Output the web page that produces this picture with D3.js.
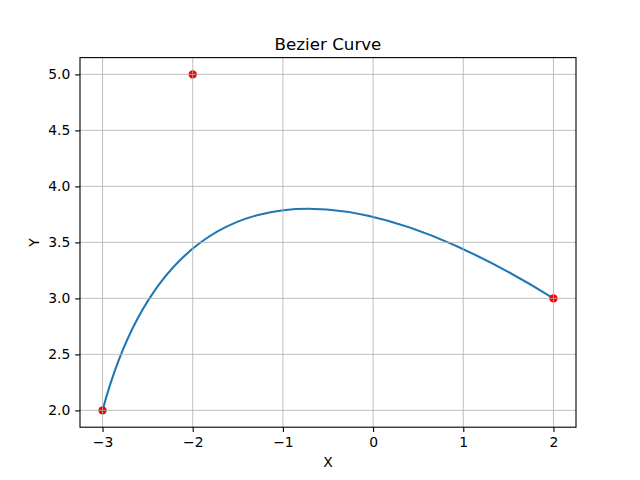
<!DOCTYPE html>
<html>
<head>
<meta charset="utf-8">
<script src="https://cdn.jsdelivr.net/npm/d3@7"></script>
<style>
  body { margin: 0; background: #fff; }
  text { font-family: "DejaVu Sans", sans-serif; }
</style>
</head>
<body>
<svg id="SVG_CONTAINER" width="640" height="480"></svg>
<script>
// control points of the quadratic Bezier curve
const pointX = [-3, -2, 2];
const pointY = [2, 5, 3];

const xTicks = [-3, -2, -1, 0, 1, 2];
const yTicks = [2.0, 2.5, 3.0, 3.5, 4.0, 4.5, 5.0];

const MARGIN = { LEFT: 80, RIGHT: 64, TOP: 57.6, BOTTOM: 52.8 };
const width = 640, height = 480;

let svg = d3.select("#SVG_CONTAINER");

let xScale = d3.scaleLinear()
    .domain([-3.25, 2.25])
    .range([MARGIN.LEFT, width - MARGIN.RIGHT]);

let yScale = d3.scaleLinear()
    .domain([1.85, 5.15])
    .range([height - MARGIN.BOTTOM, MARGIN.TOP]);

// curve
let p = d3.path();
p.moveTo(xScale(pointX[0]), yScale(pointY[0]));
p.quadraticCurveTo(xScale(pointX[1]), yScale(pointY[1]), xScale(pointX[2]), yScale(pointY[2]));

svg.append("path")
    .attr("d", p.toString())
    .attr("fill", "none")
    .attr("stroke", "#1f77b4")
    .attr("stroke-width", 2.08)
    .attr("stroke-linecap", "square");

// control points
svg.append("g")
    .selectAll("circle")
    .data(pointX)
    .enter()
    .append("circle")
    .attr("cx", d => xScale(d))
    .attr("cy", (d, i) => yScale(pointY[i]))
    .attr("r", 4.2)
    .style("fill", "red");

// grid (drawn above the marks like matplotlib)
let grid = svg.append("g");
grid.selectAll(".vgrid")
    .data(xTicks)
    .enter().append("line")
    .attr("x1", d => xScale(d)).attr("x2", d => xScale(d))
    .attr("y1", MARGIN.TOP).attr("y2", height - MARGIN.BOTTOM)
    .attr("stroke", "#b0b0b0").attr("stroke-width", 0.8);
grid.selectAll(".hgrid")
    .data(yTicks)
    .enter().append("line")
    .attr("y1", d => yScale(d)).attr("y2", d => yScale(d))
    .attr("x1", MARGIN.LEFT).attr("x2", width - MARGIN.RIGHT)
    .attr("stroke", "#b0b0b0").attr("stroke-width", 0.8);

// axes
let xAxis = d3.axisBottom(xScale)
    .tickValues(xTicks)
    .tickSize(4.86)
    .tickPadding(4.86)
    .tickSizeOuter(0)
    .tickFormat(d => d < 0 ? "\u2212" + Math.abs(d) : d);

let yAxis = d3.axisLeft(yScale)
    .tickValues(yTicks)
    .tickSize(4.86)
    .tickPadding(4.86)
    .tickSizeOuter(0)
    .tickFormat(d3.format(".1f"));

let gx = svg.append("g")
    .attr("transform", "translate(0," + (height - MARGIN.BOTTOM) + ")")
    .call(xAxis);
let gy = svg.append("g")
    .attr("transform", "translate(" + MARGIN.LEFT + ",0)")
    .call(yAxis);

[gx, gy].forEach(g => {
    g.select(".domain").remove();
    g.selectAll(".tick line").attr("stroke", "#000").attr("stroke-width", 1.1);
    g.selectAll(".tick text")
        .attr("fill", "#000")
        .style("font-size", "13.9px")
        .style("font-family", "DejaVu Sans");
});

// frame
svg.append("rect")
    .attr("x", MARGIN.LEFT)
    .attr("y", MARGIN.TOP)
    .attr("width", width - MARGIN.LEFT - MARGIN.RIGHT)
    .attr("height", height - MARGIN.TOP - MARGIN.BOTTOM)
    .attr("fill", "none")
    .attr("stroke", "#000")
    .attr("stroke-width", 1.1);

// title and labels
svg.append("text")
    .attr("x", (MARGIN.LEFT + width - MARGIN.RIGHT) / 2)
    .attr("y", MARGIN.TOP - 8)
    .attr("text-anchor", "middle")
    .style("font-size", "16.7px")
    .text("Bezier Curve");

svg.append("text")
    .attr("x", (MARGIN.LEFT + width - MARGIN.RIGHT) / 2)
    .attr("y", 467)
    .attr("text-anchor", "middle")
    .style("font-size", "13.9px")
    .text("X");

svg.append("text")
    .attr("transform", "translate(39," + ((MARGIN.TOP + height - MARGIN.BOTTOM) / 2) + ") rotate(-90)")
    .attr("text-anchor", "middle")
    .style("font-size", "13.9px")
    .text("Y");
</script>
</body>
</html>
